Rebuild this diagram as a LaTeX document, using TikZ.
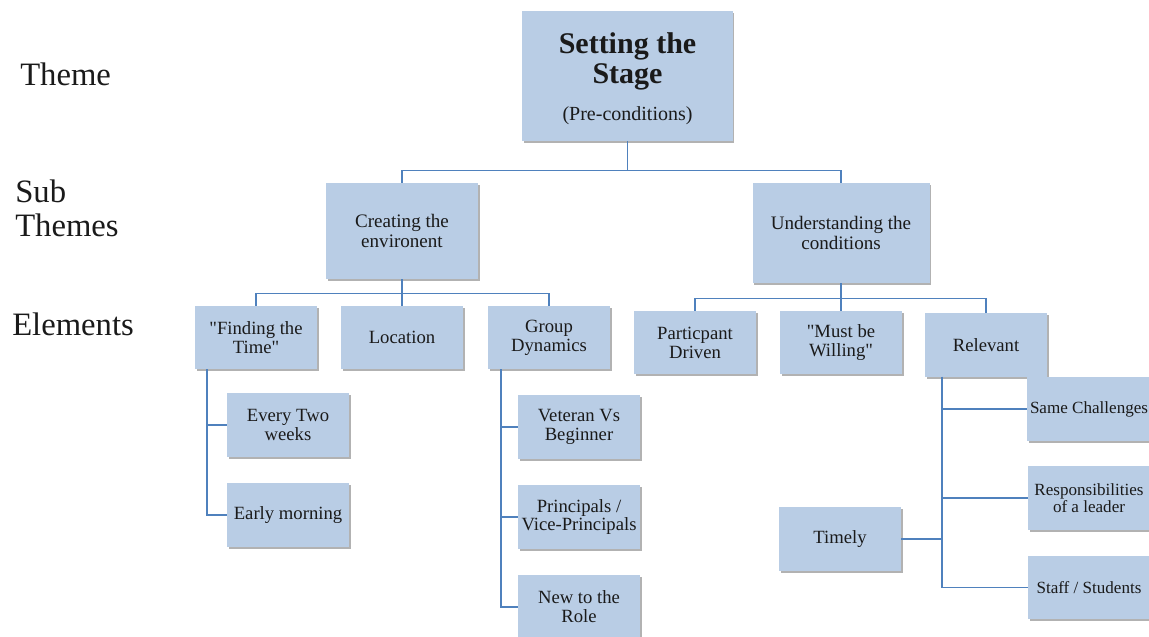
\documentclass[tikz,border=0pt]{standalone}
\usepackage{fontspec}
\setmainfont{Liberation Serif}
\usetikzlibrary{positioning, shadows, calc}
\definecolor{stageFill}{HTML}{B9CDE5}
\definecolor{stageLine}{HTML}{4F81BD}
\definecolor{stageText}{HTML}{1A1A1A}
\tikzset{
  boxBase/.style={rectangle, fill=stageFill, text=stageText, align=center, inner sep=2pt,
                  drop shadow={shadow xshift=1.2pt, shadow yshift=-1.6pt, fill=black, opacity=0.3}},
  boxTop/.style={boxBase, minimum width=158pt, minimum height=97.5pt},
  boxSub/.style={boxBase, font=\fontsize{14.3}{14.5}\selectfont, minimum height=72pt},
  boxElem/.style={boxBase, font=\fontsize{14}{14.2}\selectfont,
                  minimum width=91.5pt, minimum height=47.5pt},
  boxSmall/.style={boxElem, font=\fontsize{12.8}{13.2}\selectfont},
  linkT/.style={draw=stageLine, line width=0.8pt},
  rowLabel/.style={text=stageText, font=\fontsize{24.5}{25.5}\selectfont,
                   inner sep=0pt, align=left},
}
\begin{document}
\begin{tikzpicture}[x=0.75pt, y=-0.75pt]
  \useasboundingbox (0,0) rectangle (1149,636);
  % row labels
  \node[rowLabel, anchor=base west]  (themeLbl) at (20,85)  {Theme};
  \node[rowLabel, anchor=north west] (subLbl)   at (15,180) {Sub\\Themes};
  \node[rowLabel, anchor=base west]  (elemLbl)  at (12,335) {Elements};

  % theme
  \node[boxTop] (stage) at (627.5,76) {};
  \node[font=\fontsize{22.5}{23}\selectfont\bfseries, text=stageText, align=center]
        (stageTitle) at (627.5,61.5) {Setting the\\Stage};
  \node[font=\fontsize{15}{17}\selectfont, text=stageText] (stageNote) at (627.5,115.5) {(Pre-conditions)};

  % sub themes
  \node[boxSub, minimum width=114pt]  (env)  at (402,231) {Creating the\\environent};
  \node[boxSub, minimum width=132.75pt, minimum height=75pt] (cond) at (841,233) {Understanding the\\conditions};

  % elements
  \node[boxElem] (find) at (256,337.5) {\textquotedbl Finding the\\Time\textquotedbl};
  \node[boxElem] (loc)  at (402,337.5) {Location};
  \node[boxElem] (grp)  at (549,337.5) {Group\\Dynamics};
  \node[boxElem] (part) at (695,342.5) {Particpant\\Driven};
  \node[boxElem] (will) at (841,342.5) {\textquotedbl Must be\\Willing\textquotedbl};
  \node[boxElem] (rel)  at (986,345)   {Relevant};

  % details
  \node[boxElem] (every)   at (288,425) {Every Two\\weeks};
  \node[boxElem] (early)   at (288,515) {Early morning};
  \node[boxElem] (vet)     at (579,427) {Veteran Vs\\Beginner};
  \node[boxElem] (prin)    at (579,517) {Principals /\\Vice-Principals};
  \node[boxElem] (newrole) at (579,607) {New to the\\Role};
  \node[boxSmall] (same)   at (1089,409)   {Same Challenges};
  \node[boxSmall] (resp)   at (1089,498)   {Responsibilities\\of a leader};
  \node[boxSmall] (staff)  at (1089,587.5) {Staff / Students};
  \node[boxElem] (timely)  at (840,539)    {Timely};

  % connectors
  \draw[linkT] (stage.south) -- ++(0,29) coordinate (topBus) -| (env.north);
  \draw[linkT] (topBus) -| (cond.north);
  \draw[linkT] (env.south) -- ++(0,14) coordinate (envBus) -| (find.north);
  \draw[linkT] (envBus) -| (grp.north);
  \draw[linkT] (env.south) -- (loc.north);
  \draw[linkT] (cond.south) -- ++(0,15) coordinate (condBus) -| (part.north);
  \draw[linkT] (condBus) -| (rel.north);
  \draw[linkT] (condBus) -- (will.north);

  \draw[linkT] ([xshift=-36.75pt]find.south) |- (every.west);
  \draw[linkT] ([xshift=-36.75pt]find.south) |- (early.west);
  \draw[linkT] ([xshift=-36pt]grp.south) |- (vet.west);
  \draw[linkT] ([xshift=-36pt]grp.south) |- (prin.west);
  \draw[linkT] ([xshift=-36pt]grp.south) |- (newrole.west);
  \draw[linkT] ([xshift=-33pt]rel.south) coordinate (relBus) |- (same.west);
  \draw[linkT] (relBus) |- (resp.west);
  \draw[linkT] (relBus) |- (staff.west);
  \draw[linkT] (timely.east) -- (timely.east -| relBus);
\end{tikzpicture}
\end{document}
